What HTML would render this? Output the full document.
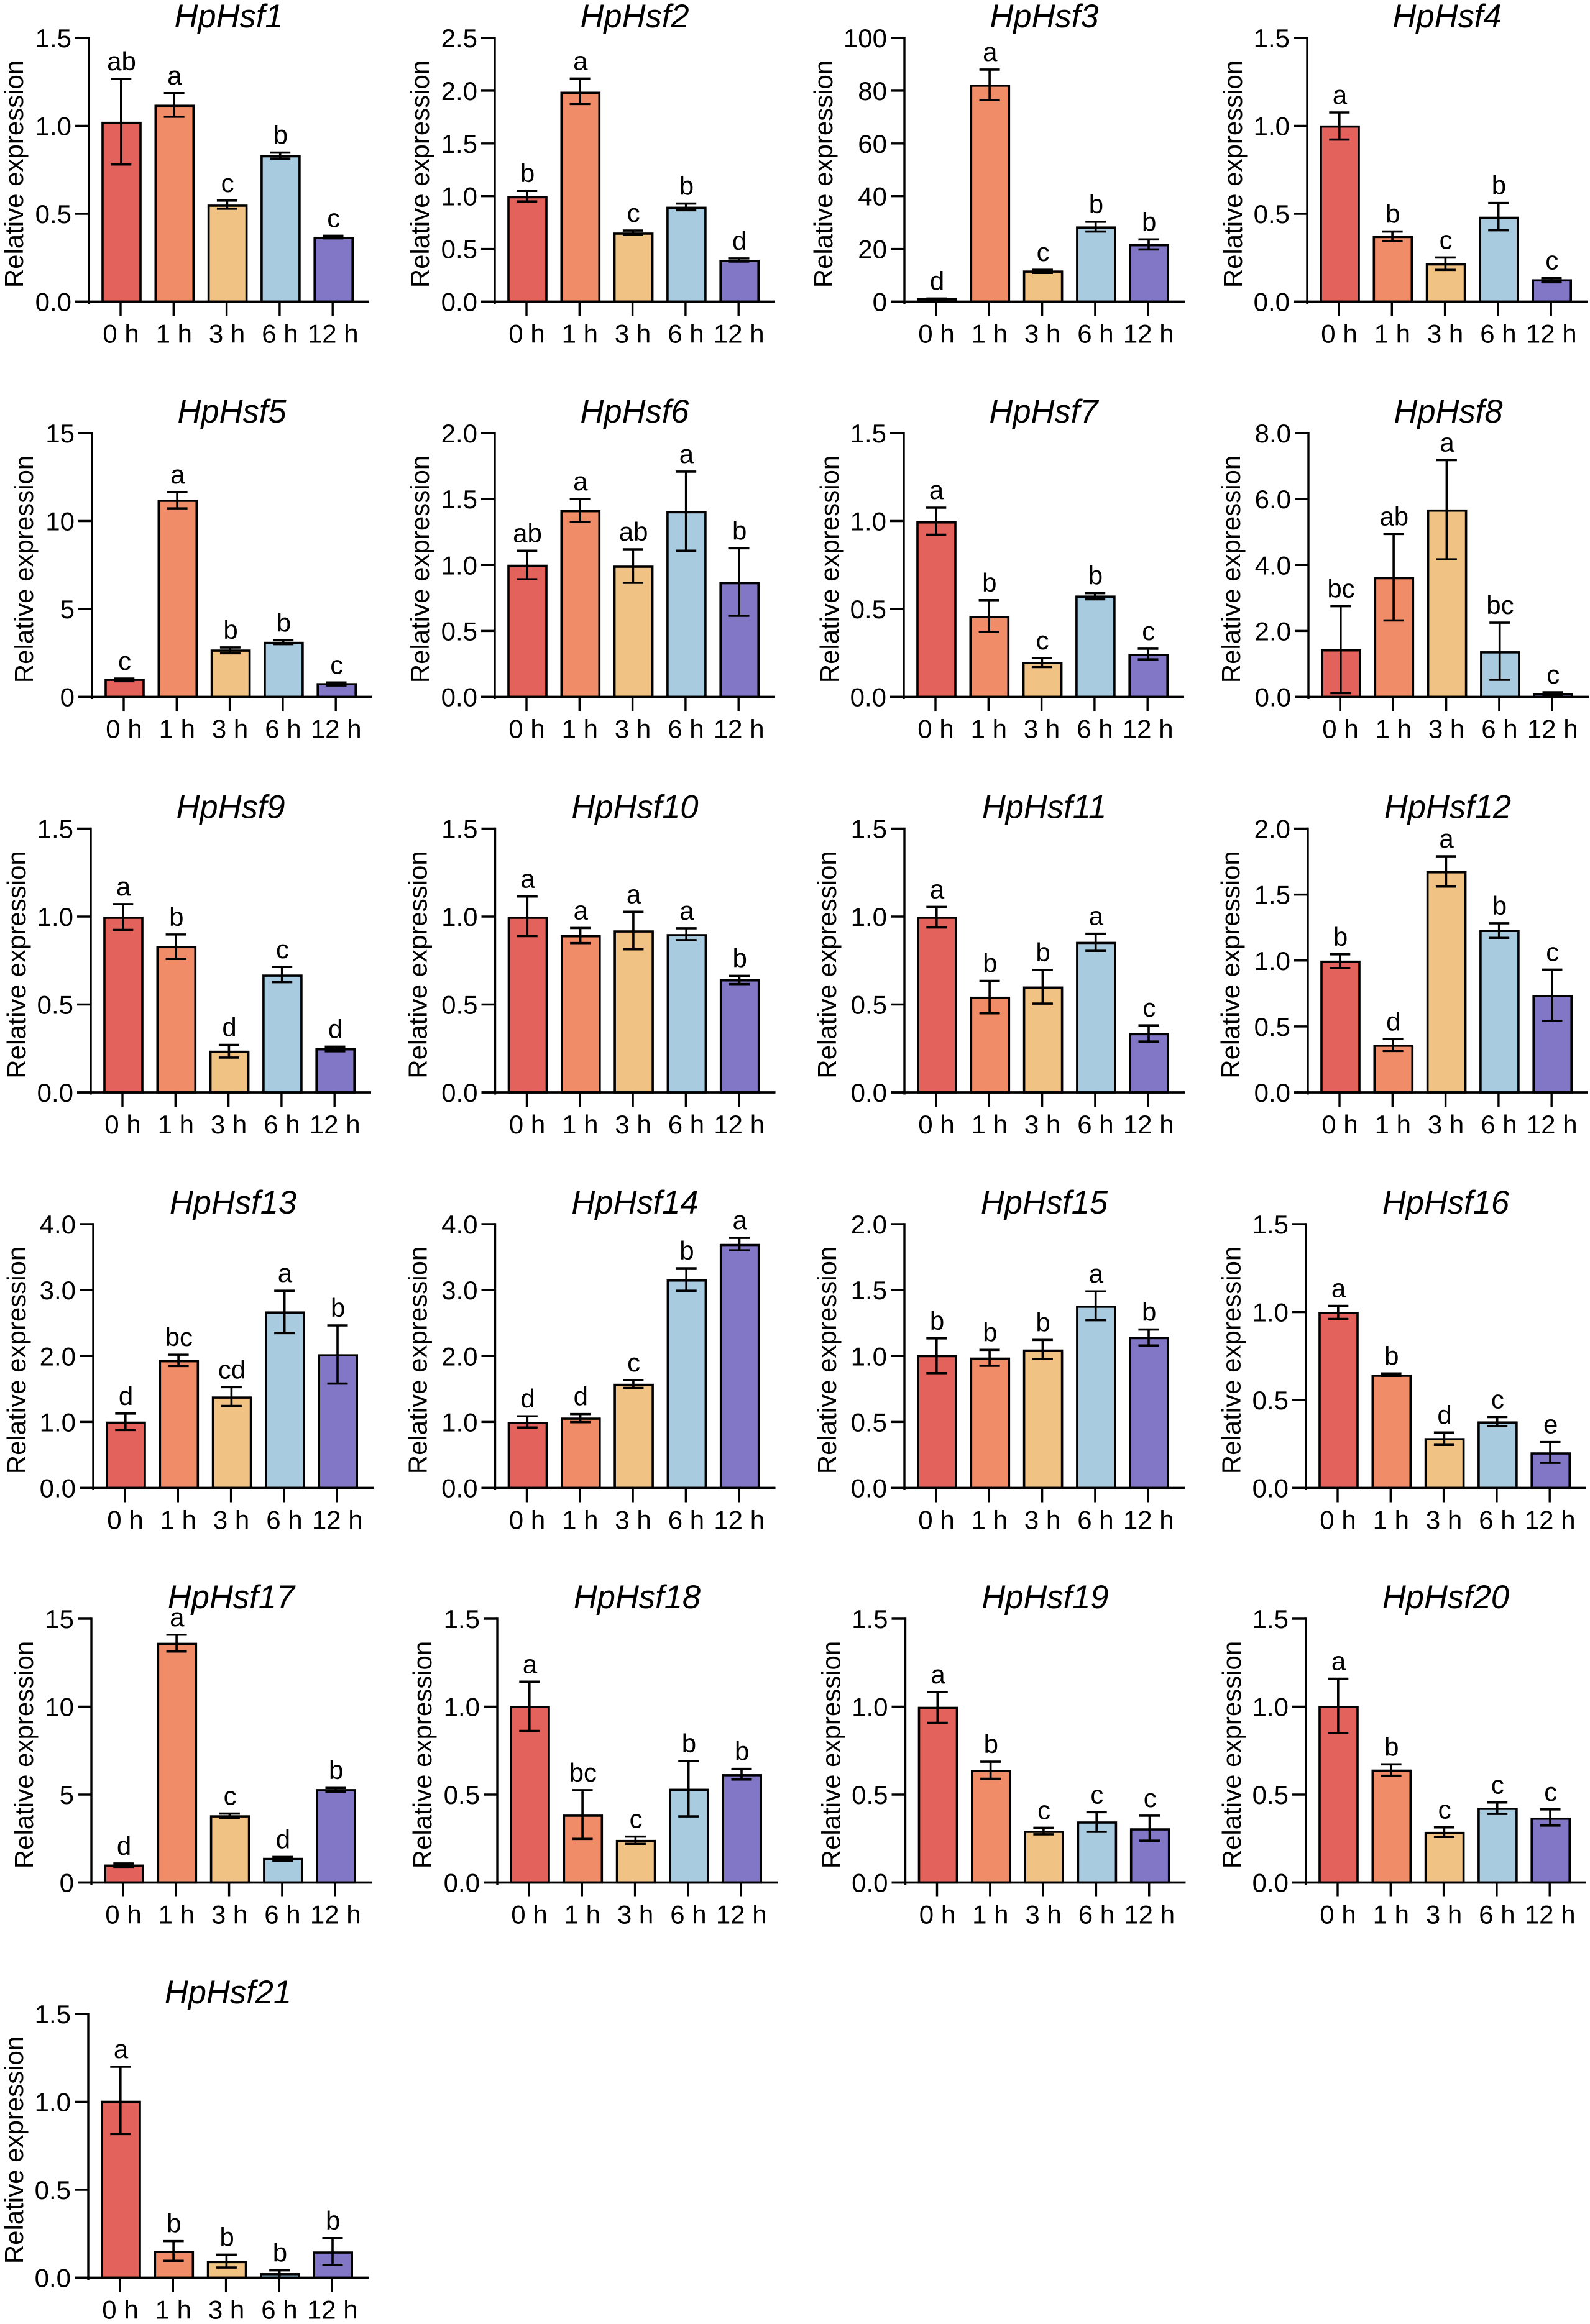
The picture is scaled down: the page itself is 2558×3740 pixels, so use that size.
<!DOCTYPE html>
<html lang="en">
<head>
<meta charset="utf-8">
<title>HpHsf relative expression bar charts</title>
<style>
html,body{margin:0;padding:0;background:#fff;}
#figure{display:block;width:2558px;height:3740px;background:#fff;}
text{font-family:"Liberation Sans",Arial,sans-serif;fill:#000;}
</style>
</head>
<body>
<svg id="figure" xmlns="http://www.w3.org/2000/svg" width="2558" height="3740" viewBox="0 0 2558 3740"></svg>
<script>
const geneNames = ["HpHsf1","HpHsf2","HpHsf3","HpHsf4","HpHsf5","HpHsf6","HpHsf7","HpHsf8","HpHsf9","HpHsf10","HpHsf11","HpHsf12","HpHsf13","HpHsf14","HpHsf15","HpHsf16","HpHsf17","HpHsf18","HpHsf19","HpHsf20","HpHsf21"];
const timeLabels = ["0 h","1 h","3 h","6 h","12 h"];
const yTickLabels = [
  ["0.0","0.5","1.0","1.5"],["0.0","0.5","1.0","1.5","2.0","2.5"],["0","20","40","60","80","100"],["0.0","0.5","1.0","1.5"],
  ["0","5","10","15"],["0.0","0.5","1.0","1.5","2.0"],["0.0","0.5","1.0","1.5"],["0.0","2.0","4.0","6.0","8.0"],
  ["0.0","0.5","1.0","1.5"],["0.0","0.5","1.0","1.5"],["0.0","0.5","1.0","1.5"],["0.0","0.5","1.0","1.5","2.0"],
  ["0.0","1.0","2.0","3.0","4.0"],["0.0","1.0","2.0","3.0","4.0"],["0.0","0.5","1.0","1.5","2.0"],["0.0","0.5","1.0","1.5"],
  ["0","5","10","15"],["0.0","0.5","1.0","1.5"],["0.0","0.5","1.0","1.5"],["0.0","0.5","1.0","1.5"],
  ["0.0","0.5","1.0","1.5"]
];
const meanValues = [
  [1.017,1.114,.546,.827,.363],[.99,1.98,.645,.89,.385],[.9,81.9,11.4,28.1,21.4],[.996,.368,.212,.477,.121],
  [.97,11.15,2.63,3.07,.72],[.994,1.408,.987,1.4,.862],[.992,.454,.192,.57,.238],[1.41,3.6,5.65,1.35,.08],
  [.993,.826,.231,.664,.245],[.993,.888,.915,.894,.637],[.993,.538,.596,.85,.331],[.991,.354,1.669,1.224,.731],
  [.989,1.921,1.37,2.66,2.01],[.986,1.05,1.563,3.145,3.684],[.999,.98,1.041,1.374,1.136],[.995,.638,.277,.372,.196],
  [.96,13.57,3.76,1.34,5.25],[.998,.38,.236,.527,.61],[.993,.635,.288,.341,.302],[.998,.636,.282,.419,.363],
  [1.0,.147,.089,.02,.143]
];
const errorHigh = [
  [1.266,1.186,.575,.848,.375],[1.05,2.115,.674,.93,.41],[1.2,88,12.1,30.3,23.6],[1.076,.399,.251,.561,.134],
  [1.04,11.65,2.81,3.22,.82],[1.108,1.5,1.119,1.708,1.127],[1.076,.55,.221,.59,.274],[2.75,4.94,7.18,2.25,.14],
  [1.071,.898,.27,.713,.26],[1.114,.935,1.027,.933,.663],[1.055,.634,.696,.902,.381],[1.047,.404,1.79,1.282,.931],
  [1.128,2.02,1.528,2.99,2.464],[1.086,1.12,1.636,3.33,3.792],[1.134,1.047,1.122,1.49,1.201],[1.035,.651,.315,.403,.261],
  [1.08,14.09,3.92,1.45,5.38],[1.142,.525,.261,.69,.646],[1.083,.687,.311,.4,.38],[1.159,.672,.314,.455,.416],
  [1.2,.208,.131,.042,.225]
];
const errorLow = [
  [.78,1.052,.529,.814,.36],[.95,1.874,.633,.867,.38],[.5,76.4,10.9,26.6,19.8],[.922,.344,.181,.406,.11],
  [.89,10.72,2.48,3.0,.65],[.892,1.327,.865,1.108,.615],[.922,.369,.17,.555,.213],[.115,2.32,4.17,.52,.02],
  [.924,.759,.198,.627,.234],[.889,.849,.814,.866,.616],[.938,.45,.505,.805,.289],[.943,.314,1.561,1.172,.543],
  [.878,1.848,1.243,2.348,1.582],[.916,.997,1.517,2.99,3.603],[.87,.926,.978,1.272,1.08],[.961,.637,.245,.351,.143],
  [.89,13.14,3.66,1.24,5.15],[.862,.248,.22,.376,.586],[.908,.59,.274,.288,.238],[.849,.607,.259,.39,.324],
  [.817,.096,.058,.0,.073]
];
const significanceLetters = [
  ["ab","a","c","b","c"],["b","a","c","b","d"],["d","a","c","b","b"],["a","b","c","b","c"],
  ["c","a","b","b","c"],["ab","a","ab","a","b"],["a","b","c","b","c"],["bc","ab","a","bc","c"],
  ["a","b","d","c","d"],["a","a","a","a","b"],["a","b","b","a","c"],["b","d","a","b","c"],
  ["d","bc","cd","a","b"],["d","d","c","b","a"],["b","b","b","a","b"],["a","b","d","c","e"],
  ["d","a","c","d","b"],["a","bc","c","b","b"],["a","b","c","c","c"],["a","b","c","c","c"],
  ["a","b","b","b","b"]
];

/* page layout of each panel, not chart data */
const panelAxisLeft = [143,796,1455,2103,148,796,1454,2105,146,796.5,1455,2104,150,796.5,1455,2101,147,800,1456.5,2101,142];
const panelTitleGap = [106,106,116,105,95,106,105,110,105,110,110,110,109,110,110,105.5,94,106,105,105,105];
const rowTop = [61,697,1333.5,1970,2605,3241];

const barColors = ["#E4625C","#F08C68","#F0C283","#A9CBE0","#8276C6"];
const PLOT_H = 424.5, AX = 3.4, SVGNS = "http://www.w3.org/2000/svg";
const figure = document.getElementById("figure");

function make(parent, tag, attrs, content) {
  const node = document.createElementNS(SVGNS, tag);
  for (const k in attrs) node.setAttribute(k, attrs[k]);
  if (content !== undefined) node.textContent = content;
  parent.appendChild(node);
  return node;
}

geneNames.forEach(function (gene, p) {
  const axisX = panelAxisLeft[p];
  const top = rowTop[Math.floor(p / 4)];
  const base = top + PLOT_H;
  const ticks = yTickLabels[p];
  const yMax = parseFloat(ticks[ticks.length - 1]);
  const yScale = function (v) { return base - (v / yMax) * PLOT_H; };
  const xScale = function (i) { return axisX + 52.5 + i * 85.3; };
  const tickScale = function (i) { return axisX + 51 + i * 85.3; };

  const g = make(figure, "g", {});
  
  

  const title = make(g, "text", {x: axisX + 225, y: top - 17, "text-anchor": "middle", "font-size": 52.5, "font-style": "italic"}, gene);
  
  

  const yTitleX = axisX - panelTitleGap[p], yTitleY = top + 219;
  const yTitle = make(g, "text", {x: yTitleX, y: yTitleY, "text-anchor": "middle", "font-size": 42, transform: "rotate(-90 " + yTitleX + " " + yTitleY + ")"}, "Relative expression");
  
  

  meanValues[p].forEach(function (v, i) {
    const cx = xScale(i);
    const bar = make(g, "rect", {x: cx - 30.5, y: yScale(v), width: 61, height: base - yScale(v), fill: barColors[i], stroke: "#000", "stroke-width": 3.6});
    
    
  });

  const yAxis = make(g, "line", {x1: axisX, y1: top - 1.7, x2: axisX, y2: base + 3.5, stroke: "#000", "stroke-width": AX});
  
  
  const xAxis = make(g, "line", {x1: axisX - 22, y1: base, x2: axisX + 451, y2: base, stroke: "#000", "stroke-width": 3.8});
  
  

  ticks.forEach(function (label) {
    const ty = yScale(parseFloat(label));
    const tick = make(g, "line", {x1: axisX - 22, y1: ty, x2: axisX, y2: ty, stroke: "#000", "stroke-width": AX});
    
    
    const text = make(g, "text", {x: axisX - 28, y: ty + 15, "text-anchor": "end", "font-size": 42}, label);
    
    
  });

  timeLabels.forEach(function (label, i) {
    const tx = tickScale(i);
    const tick = make(g, "line", {x1: tx, y1: base, x2: tx, y2: base + 23, stroke: "#000", "stroke-width": AX});
    
    
    const text = make(g, "text", {x: tx + 0.5, y: base + 66, "text-anchor": "middle", "font-size": 42}, label);
    
    
  });

  meanValues[p].forEach(function (v, i) {
    const cx = xScale(i) - 0.7;
    const hi = yScale(errorHigh[p][i]), lo = yScale(errorLow[p][i]);
    const d = "M" + cx + " " + hi + "V" + lo + "M" + (cx - 16.5) + " " + hi + "H" + (cx + 16.5) + "M" + (cx - 16.5) + " " + lo + "H" + (cx + 16.5);
    const err = make(g, "path", {d: d, fill: "none", stroke: "#000", "stroke-width": 3.6});
    
    
    const letter = make(g, "text", {x: cx + 0.7, y: hi - 14, "text-anchor": "middle", "font-size": 42}, significanceLetters[p][i]);
    
    
  });
});
</script>
</body>
</html>
